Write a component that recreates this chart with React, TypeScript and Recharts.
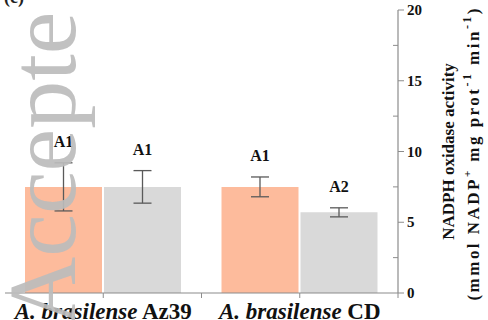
import React from "react";
import {
  BarChart,
  Bar,
  XAxis,
  YAxis,
  ErrorBar,
  LabelList,
} from "recharts";

// strains on the x axis
const strains = ["Az39", "CD"];
const speciesName = "A. brasilense";

// orange series
const orangeValues = [7.5, 7.5];
const orangeErrors = [1.7, 0.7];
const orangeLetters = ["A1", "A1"];

// gray series
const grayValues = [7.5, 5.7];
const grayErrors = [1.15, 0.32];
const grayLetters = ["A1", "A2"];

const yTicks = [0, 2.5, 5, 7.5, 10, 12.5, 15, 17.5, 20];

const ORANGE = "#FDBB9C";
const GRAY = "#D9D9D9";
const AXIS = "#8c8c8c";
const ERR = "#5a5a5a";
const SERIF = "Liberation Serif, Tinos, DejaVu Serif, serif";

const data = strains.map((s, i) => ({
  name: s,
  orange: orangeValues[i],
  orangeErr: orangeErrors[i],
  gray: grayValues[i],
  grayErr: grayErrors[i],
}));

const RightTick = (props: any) => {
  const { x, y, payload } = props;
  const major = payload.value % 5 === 0;
  if (!major) {
    return <line x1={x - 5} y1={y} x2={x} y2={y} stroke={AXIS} strokeWidth={1} />;
  }
  return (
    <g>
      <line x1={x} y1={y} x2={x + 6} y2={y} stroke={AXIS} strokeWidth={1} />
      <text
        x={x + 9}
        y={y}
        dy={5}
        textAnchor="start"
        style={{ fontFamily: SERIF, fontWeight: "bold", fontSize: 15 }}
        fill="#111"
      >
        {payload.value}
      </text>
    </g>
  );
};

const BottomTick = (props: any) => {
  const { x, y, payload } = props;
  const off = payload.offset || 0;
  return (
    <g>
      <line x1={x} y1={y} x2={x} y2={y + 5} stroke={AXIS} />
      {off > 0 && <line x1={x + off} y1={y} x2={x + off} y2={y + 5} stroke={AXIS} />}
      <text
        x={x}
        y={y + 26}
        textAnchor="middle"
        style={{ fontFamily: SERIF, fontWeight: "bold", fontSize: 23 }}
        fill="#111"
      >
        <tspan style={{ fontStyle: "italic" }}>{speciesName}</tspan>
        <tspan>{" " + payload.value}</tspan>
      </text>
    </g>
  );
};

const makeLetter = (letters: string[], errors: number[]) => (props: any) => {
  const { x, y, width, height, value, index } = props;
  const pxPerUnit = value ? height / value : 0;
  const top = y - errors[index] * pxPerUnit;
  return (
    <text
      x={x + width / 2}
      y={top - 16}
      textAnchor="middle"
      style={{ fontFamily: SERIF, fontWeight: "bold", fontSize: 16 }}
      fill="#111"
    >
      {letters[index]}
    </text>
  );
};

const AxisTitle = (props: any) => {
  const vb = props.viewBox;
  const x1 = vb.x + 50;
  const x2 = vb.x + 75;
  const cy = vb.y + vb.height / 2;
  return (
    <g style={{ fontFamily: SERIF, fontWeight: "bold", fontSize: 17 }} fill="#111">
      <text
        x={x1}
        y={cy}
        textAnchor="middle"
        dominantBaseline="central"
        transform={`rotate(-90 ${x1} ${cy})`}
      >
        NADPH oxidase activity
      </text>
      <text
        x={x2}
        y={cy + 3}
        textAnchor="middle"
        dominantBaseline="central"
        textLength={292}
        lengthAdjust="spacing"
        transform={`rotate(-90 ${x2} ${cy + 3})`}
      >
        (mmol NADP
        <tspan dy={-6} style={{ fontSize: 11 }}>+</tspan>
        <tspan dy={6}> mg prot</tspan>
        <tspan dy={-6} style={{ fontSize: 12 }}>-1</tspan>
        <tspan dy={6}> min</tspan>
        <tspan dy={-6} style={{ fontSize: 12 }}>-1</tspan>
        <tspan dy={6}>)</tspan>
      </text>
    </g>
  );
};

export default function App() {
  return (
    <div style={{ position: "absolute", left: 0, top: 0, width: 488, height: 320, background: "#fff" }}>
      <BarChart
        width={488}
        height={320}
        data={data}
        margin={{ top: 10, right: 10, bottom: 0, left: 5 }}
        barCategoryGap={20}
        barGap={2}
      >
        <XAxis
          dataKey="name"
          height={27}
          axisLine={{ stroke: AXIS, strokeWidth: 1.2 }}
          tickLine={false}
          tickSize={0}
          tickMargin={0}
          tick={<BottomTick />}
          interval={0}
        />
        <XAxis
          xAxisId="top"
          dataKey="name"
          orientation="top"
          height={0}
          tick={false}
          tickLine={false}
          axisLine={{ stroke: AXIS, strokeWidth: 1.2 }}
        />
        <YAxis
          orientation="right"
          width={80}
          domain={[0, 20]}
          ticks={yTicks}
          interval={0}
          tickSize={0}
          tickMargin={0}
          tickLine={false}
          axisLine={{ stroke: AXIS, strokeWidth: 1.2 }}
          tick={<RightTick />}
          label={<AxisTitle />}
        />
        <YAxis
          yAxisId="frame"
          orientation="left"
          width={0}
          domain={[0, 20]}
          tick={false}
          tickLine={false}
          axisLine={{ stroke: AXIS, strokeWidth: 1.2 }}
        />
        <Bar dataKey="orange" fill={ORANGE} isAnimationActive={false}>
          <ErrorBar dataKey="orangeErr" direction="y" width={9} stroke={ERR} strokeWidth={1.3} />
          <LabelList dataKey="orange" content={makeLetter(orangeLetters, orangeErrors)} />
        </Bar>
        <Bar dataKey="gray" fill={GRAY} isAnimationActive={false}>
          <ErrorBar dataKey="grayErr" direction="y" width={9} stroke={ERR} strokeWidth={1.3} />
          <LabelList dataKey="gray" content={makeLetter(grayLetters, grayErrors)} />
        </Bar>
      </BarChart>

      {/* watermark and panel letter */}
      <svg
        width={488}
        height={320}
        style={{ position: "absolute", left: 0, top: 0, pointerEvents: "none" }}
      >
        <text
          x={75}
          y={326}
          style={{ fontFamily: SERIF, fontSize: 96 }}
          fill="#bcbcbc"
          fillOpacity={0.92}
          transform="rotate(-90 75 326)"
        >
          Accepte
        </text>
        <text x={4} y={3} style={{ fontFamily: SERIF, fontSize: 18, fontWeight: "bold" }} fill="#222">
          (c)
        </text>
      </svg>
    </div>
  );
}
